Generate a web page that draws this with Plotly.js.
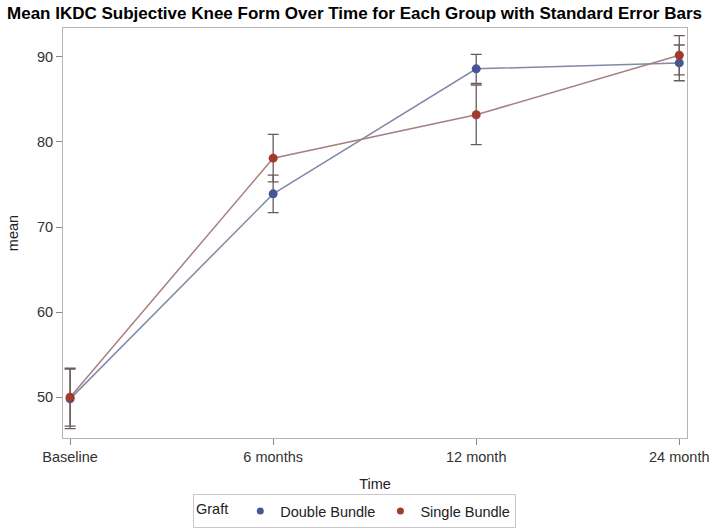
<!DOCTYPE html>
<html><head><meta charset="utf-8">
<script src="https://cdn.plot.ly/plotly-3.0.1.min.js"></script>
<style>html,body{margin:0;padding:0;background:#fff}</style>
</head><body>
<div id="chart" style="width:709px;height:528px"></div>
<script>
const timepoints = ["Baseline", "6 months", "12 month", "24 month"];
const groupNames = ["Double Bundle", "Single Bundle"];
const doubleMean = [49.8, 73.9, 88.6, 89.3];
const doubleSE = [3.5, 2.2, 1.7, 2.1];
const singleMean = [50.0, 78.1, 83.2, 90.2];
const singleSE = [3.4, 2.8, 3.5, 2.3];

const errColor = '#6a5a5e';
const markerColors = ['#445694', '#a23a2e'];
const lineColors = ['#8089a8', '#a78080'];
const means = [doubleMean, singleMean];
const ses = [doubleSE, singleSE];

const traces = [];
for (let i = 0; i < 2; i++) {
  traces.push({
    x: timepoints, y: means[i], name: groupNames[i], type: 'scatter', mode: 'lines+markers',
    showlegend: false,
    line: {color: lineColors[i], width: 1.5},
    marker: {color: markerColors[i], size: 9},
    error_y: {type: 'data', array: ses[i], visible: true, color: errColor, thickness: 1.3, width: 5.5}
  });
}
for (let i = 0; i < 2; i++) {
  traces.push({
    x: [null], y: [null], name: groupNames[i], type: 'scatter', mode: 'markers',
    showlegend: true, marker: {color: markerColors[i], size: 7}
  });
}

const layout = {
  width: 709, height: 528,
  margin: {l: 63, r: 22, t: 28, b: 90},
  paper_bgcolor: '#fff', plot_bgcolor: '#fff',
  font: {family: 'Liberation Sans, Arial, sans-serif', color: '#333', size: 14},
  title: {text: '<b>Mean IKDC Subjective Knee Form Over Time for Each Group with Standard Error Bars</b>',
          font: {size: 17, color: '#000'}, x: 0.5, xanchor: 'center', y: 0.976, yanchor: 'middle'},
  xaxis: {
    type: 'category', range: [-0.035, 3.038],
    showline: true, mirror: true, linecolor: '#b4b4b4', linewidth: 1,
    ticks: 'outside', ticklen: 6, tickcolor: '#888', showgrid: false, zeroline: false,
    tickfont: {size: 14.5, color: '#333'},
    title: {text: 'Time', font: {size: 14.5, color: '#222'}, standoff: 14}
  },
  yaxis: {
    range: [45.2, 93.4], tickvals: [50, 60, 70, 80, 90],
    showline: true, mirror: true, linecolor: '#b4b4b4', linewidth: 1,
    ticks: 'outside', ticklen: 6, tickcolor: '#888', showgrid: false, zeroline: false,
    tickfont: {size: 14.5, color: '#333'},
    title: {text: 'mean', font: {size: 14.5, color: '#222'}, standoff: 14}
  },
  showlegend: true,
  legend: {
    orientation: 'h', x: 0.5, xanchor: 'center', xref: 'container', y: 0.0, yref: 'container', yanchor: 'bottom',
    bordercolor: '#c8c8c8', borderwidth: 1, itemwidth: 30, tracegroupgap: 0,
    title: {text: 'Graft ', font: {size: 14.5, color: '#222'}},
    font: {size: 14.5, color: '#222'}, itemclick: false
  }
};
Plotly.newPlot('chart', traces, layout, {displayModeBar: false, staticPlot: true});
</script>
</body></html>
